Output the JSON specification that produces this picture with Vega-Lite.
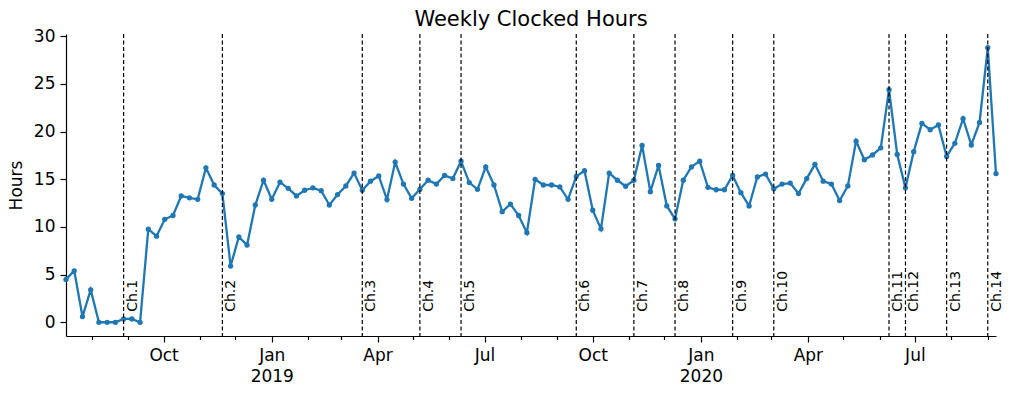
{
  "$schema": "https://vega.github.io/schema/vega-lite/v6.json",
  "width": 930,
  "height": 302,
  "autosize": {"type": "none"},
  "padding": {"left": 66, "top": 34, "right": 21, "bottom": 58},
  "background": "white",
  "title": {"text": "Weekly Clocked Hours", "fontSize": 21, "fontWeight": "normal", "font": "DejaVu Sans", "color": "black", "offset": -3},
  "config": {
    "view": {"stroke": null},
    "font": "DejaVu Sans",
    "axis": {"grid": false, "domainColor": "black", "tickColor": "black", "labelColor": "black", "titleColor": "black", "labelFont": "DejaVu Sans", "titleFont": "DejaVu Sans", "domainWidth": 1.2, "tickWidth": 1.2}
  },
  "datasets": {
    "hours": [
      {"week": "2018-07-10", "hours": 4.5},
      {"week": "2018-07-17", "hours": 5.4},
      {"week": "2018-07-24", "hours": 0.6},
      {"week": "2018-07-31", "hours": 3.4},
      {"week": "2018-08-07", "hours": 0},
      {"week": "2018-08-14", "hours": 0},
      {"week": "2018-08-21", "hours": 0},
      {"week": "2018-08-28", "hours": 0.35},
      {"week": "2018-09-04", "hours": 0.35},
      {"week": "2018-09-11", "hours": 0},
      {"week": "2018-09-18", "hours": 9.77},
      {"week": "2018-09-25", "hours": 9.03},
      {"week": "2018-10-02", "hours": 10.8},
      {"week": "2018-10-09", "hours": 11.2},
      {"week": "2018-10-16", "hours": 13.25},
      {"week": "2018-10-23", "hours": 13.05},
      {"week": "2018-10-30", "hours": 12.9},
      {"week": "2018-11-06", "hours": 16.2},
      {"week": "2018-11-13", "hours": 14.4},
      {"week": "2018-11-20", "hours": 13.5},
      {"week": "2018-11-27", "hours": 5.9},
      {"week": "2018-12-04", "hours": 8.96},
      {"week": "2018-12-11", "hours": 8.1},
      {"week": "2018-12-18", "hours": 12.3},
      {"week": "2018-12-25", "hours": 14.9},
      {"week": "2019-01-01", "hours": 12.9},
      {"week": "2019-01-08", "hours": 14.7},
      {"week": "2019-01-15", "hours": 14.05},
      {"week": "2019-01-22", "hours": 13.25},
      {"week": "2019-01-29", "hours": 13.85},
      {"week": "2019-02-05", "hours": 14.1},
      {"week": "2019-02-12", "hours": 13.8},
      {"week": "2019-02-19", "hours": 12.3},
      {"week": "2019-02-26", "hours": 13.4},
      {"week": "2019-03-05", "hours": 14.3},
      {"week": "2019-03-12", "hours": 15.65},
      {"week": "2019-03-19", "hours": 13.85},
      {"week": "2019-03-26", "hours": 14.8},
      {"week": "2019-04-02", "hours": 15.35},
      {"week": "2019-04-09", "hours": 12.87},
      {"week": "2019-04-16", "hours": 16.8},
      {"week": "2019-04-23", "hours": 14.5},
      {"week": "2019-04-30", "hours": 13.0},
      {"week": "2019-05-07", "hours": 13.95},
      {"week": "2019-05-14", "hours": 14.9},
      {"week": "2019-05-21", "hours": 14.5},
      {"week": "2019-05-28", "hours": 15.4},
      {"week": "2019-06-04", "hours": 15.07},
      {"week": "2019-06-11", "hours": 16.9},
      {"week": "2019-06-18", "hours": 14.65},
      {"week": "2019-06-25", "hours": 13.95},
      {"week": "2019-07-02", "hours": 16.3},
      {"week": "2019-07-09", "hours": 14.4},
      {"week": "2019-07-16", "hours": 11.6},
      {"week": "2019-07-23", "hours": 12.4},
      {"week": "2019-07-30", "hours": 11.2},
      {"week": "2019-08-06", "hours": 9.4},
      {"week": "2019-08-13", "hours": 15.0},
      {"week": "2019-08-20", "hours": 14.4},
      {"week": "2019-08-27", "hours": 14.4},
      {"week": "2019-09-03", "hours": 14.2},
      {"week": "2019-09-10", "hours": 12.9},
      {"week": "2019-09-17", "hours": 15.3},
      {"week": "2019-09-24", "hours": 15.9},
      {"week": "2019-10-01", "hours": 11.75},
      {"week": "2019-10-08", "hours": 9.8},
      {"week": "2019-10-15", "hours": 15.65},
      {"week": "2019-10-22", "hours": 14.9},
      {"week": "2019-10-29", "hours": 14.27},
      {"week": "2019-11-05", "hours": 14.9},
      {"week": "2019-11-12", "hours": 18.55},
      {"week": "2019-11-19", "hours": 13.7},
      {"week": "2019-11-26", "hours": 16.45},
      {"week": "2019-12-03", "hours": 12.2},
      {"week": "2019-12-10", "hours": 10.85},
      {"week": "2019-12-17", "hours": 14.9},
      {"week": "2019-12-24", "hours": 16.3},
      {"week": "2019-12-31", "hours": 16.9},
      {"week": "2020-01-07", "hours": 14.16},
      {"week": "2020-01-14", "hours": 13.9},
      {"week": "2020-01-21", "hours": 13.9},
      {"week": "2020-01-28", "hours": 15.4},
      {"week": "2020-02-04", "hours": 13.6},
      {"week": "2020-02-11", "hours": 12.2},
      {"week": "2020-02-18", "hours": 15.25},
      {"week": "2020-02-25", "hours": 15.55},
      {"week": "2020-03-03", "hours": 14.0},
      {"week": "2020-03-10", "hours": 14.5},
      {"week": "2020-03-17", "hours": 14.6},
      {"week": "2020-03-24", "hours": 13.5},
      {"week": "2020-03-31", "hours": 15.07},
      {"week": "2020-04-07", "hours": 16.57},
      {"week": "2020-04-14", "hours": 14.8},
      {"week": "2020-04-21", "hours": 14.5},
      {"week": "2020-04-28", "hours": 12.77},
      {"week": "2020-05-05", "hours": 14.3},
      {"week": "2020-05-12", "hours": 19.0},
      {"week": "2020-05-19", "hours": 17.05},
      {"week": "2020-05-26", "hours": 17.55},
      {"week": "2020-06-02", "hours": 18.3},
      {"week": "2020-06-09", "hours": 24.4},
      {"week": "2020-06-16", "hours": 17.6},
      {"week": "2020-06-23", "hours": 14.1},
      {"week": "2020-06-30", "hours": 17.9},
      {"week": "2020-07-07", "hours": 20.86},
      {"week": "2020-07-14", "hours": 20.2},
      {"week": "2020-07-21", "hours": 20.7},
      {"week": "2020-07-28", "hours": 17.4},
      {"week": "2020-08-04", "hours": 18.77},
      {"week": "2020-08-11", "hours": 21.35},
      {"week": "2020-08-18", "hours": 18.6},
      {"week": "2020-08-25", "hours": 20.96},
      {"week": "2020-09-01", "hours": 28.8},
      {"week": "2020-09-08", "hours": 15.6}
    ],
    "changes": [
      {"week": "2018-08-28", "label": "Ch.1"},
      {"week": "2018-11-20", "label": "Ch.2"},
      {"week": "2019-03-19", "label": "Ch.3"},
      {"week": "2019-05-07", "label": "Ch.4"},
      {"week": "2019-06-11", "label": "Ch.5"},
      {"week": "2019-09-17", "label": "Ch.6"},
      {"week": "2019-11-05", "label": "Ch.7"},
      {"week": "2019-12-10", "label": "Ch.8"},
      {"week": "2020-01-28", "label": "Ch.9"},
      {"week": "2020-03-03", "label": "Ch.10"},
      {"week": "2020-06-09", "label": "Ch.11"},
      {"week": "2020-06-23", "label": "Ch.12"},
      {"week": "2020-07-28", "label": "Ch.13"},
      {"week": "2020-09-01", "label": "Ch.14"}
    ]
  },
  "encoding": {
    "x": {
      "field": "week",
      "type": "temporal",
      "scale": {"type": "utc", "domain": [{"year": 2018, "month": 7, "date": 10, "utc": true}, {"year": 2020, "month": 9, "date": 8, "utc": true}], "nice": false},
      "axis": {
        "title": null,
        "tickCount": {"interval": "month", "step": 1},
        "tickSize": {"condition": {"test": "utcmonth(datum.value) % 3 == 0", "value": 6}, "value": 3.5},
        "labelExpr": "utcmonth(datum.value) == 0 ? [utcFormat(datum.value, '%b'), utcFormat(datum.value, '%Y')] : (utcmonth(datum.value) % 3 == 0 ? utcFormat(datum.value, '%b') : '')",
        "labelFontSize": 17,
        "labelLineHeight": 21,
        "labelPadding": 5,
        "labelOverlap": false,
        "labelFlush": false,
        "labelBound": false
      }
    }
  },
  "layer": [
    {
      "data": {"name": "hours"},
      "mark": {"type": "line", "color": "#1f77b4", "strokeWidth": 2.3, "point": {"filled": true, "size": 28, "color": "#1f77b4", "opacity": 1}},
      "encoding": {
        "y": {
          "field": "hours",
          "type": "quantitative",
          "scale": {"domain": [-1.44, 30.24], "nice": false, "zero": false},
          "axis": {"title": "Hours", "values": [0, 5, 10, 15, 20, 25, 30], "tickSize": 6, "labelFontSize": 17, "labelPadding": 5, "titleFontSize": 17, "titleFontWeight": "normal", "titlePadding": 8}
        }
      }
    },
    {
      "data": {"name": "changes"},
      "mark": {"type": "rule", "color": "black", "strokeWidth": 1.2, "strokeDash": [4, 2.5]},
      "encoding": {}
    },
    {
      "data": {"name": "changes"},
      "mark": {"type": "text", "angle": 270, "align": "left", "baseline": "top", "dy": 2, "fontSize": 14, "font": "DejaVu Sans", "color": "black"},
      "encoding": {
        "y": {"datum": 1.1, "type": "quantitative"},
        "text": {"field": "label"}
      }
    }
  ]
}
